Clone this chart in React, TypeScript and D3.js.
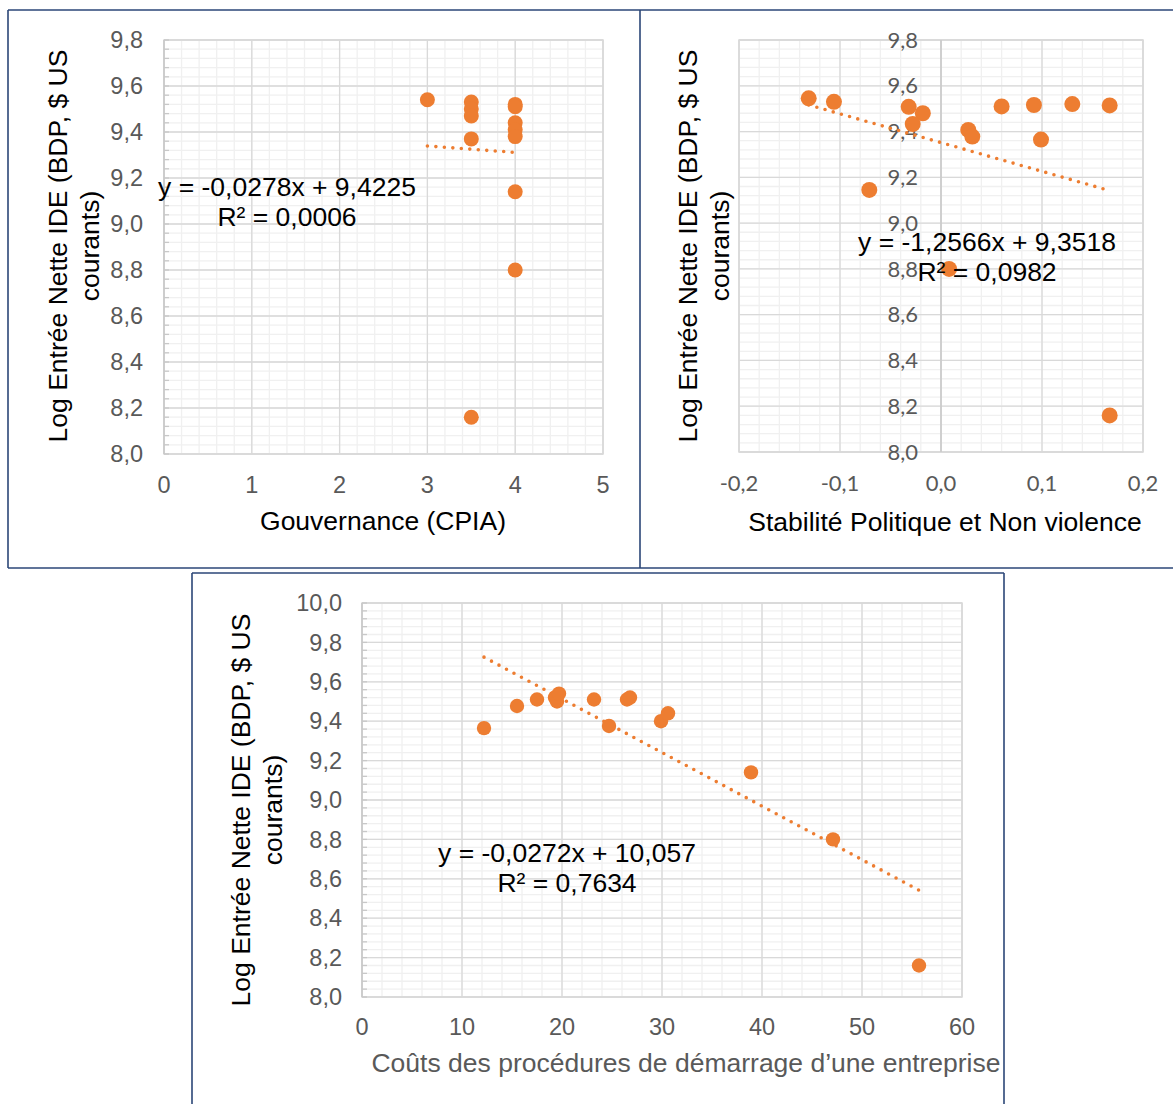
import React, { useEffect, useRef } from 'react';
import * as d3 from 'd3';

// Panel 1 : Gouvernance (CPIA)
const govX = [3, 3.5, 3.5, 3.5, 3.5, 3.5, 4, 4, 4, 4, 4, 4, 4];
const govY = [9.54, 9.53, 9.5, 9.47, 9.37, 8.16, 9.52, 9.51, 9.44, 9.41, 9.38, 9.14, 8.8];

// Panel 2 : Stabilité politique
const stabX = [-0.131, -0.106, -0.032, -0.018, -0.028, 0.027, 0.031, 0.06, 0.092, 0.13, 0.167, 0.099, -0.071, 0.008, 0.167];
const stabY = [9.545, 9.53, 9.508, 9.48, 9.433, 9.407, 9.378, 9.51, 9.516, 9.52, 9.514, 9.365, 9.145, 8.8, 8.16];

// Panel 3 : Coûts des procédures
const coutX = [12.2, 15.5, 17.5, 19.3, 19.5, 19.7, 23.2, 24.7, 26.5, 26.8, 29.9, 30.6, 38.9, 47.1, 55.7];
const coutY = [9.365, 9.477, 9.51, 9.52, 9.5, 9.54, 9.51, 9.376, 9.51, 9.52, 9.4, 9.44, 9.14, 8.8, 8.16];

// regression lines shown (slope, intercept) and equation labels
const slopes = [-0.0278, -1.2566, -0.0272];
const intercepts = [9.4225, 9.3518, 10.057];
const eqLabels = ['y = -0,0278x + 9,4225', 'y = -1,2566x + 9,3518', 'y = -0,0272x + 10,057'];
const r2Labels = ['R² = 0,0006', 'R² = 0,0982', 'R² = 0,7634'];

const yTitle = ['Log Entrée Nette IDE (BDP, $ US', 'courants)'];
const xTitles = ['Gouvernance (CPIA)', 'Stabilité Politique et Non violence', 'Coûts des procédures de démarrage d\u2019une entreprise'];

const ORANGE = '#ED7D31';
const FONT = '"Liberation Sans", Arial, sans-serif';
const TITLE_SIZE = 26.5;

const fmt = (d, dec) => d.toFixed(dec).replace('.', ',');

function drawPanel(svg, o) {
  const g = svg.append('g');
  const x = d3.scaleLinear().domain(o.xDomain).range(o.xRange);
  const y = d3.scaleLinear().domain(o.yDomain).range(o.yRange);
  const [x0, x1] = o.xRange;
  const [y0, y1] = o.yRange;

  // minor grid
  const xMinor = d3.range(o.xDomain[0], o.xDomain[1] + 1e-9, o.xMinor);
  const yMinor = d3.range(o.yDomain[0], o.yDomain[1] + 1e-9, o.yMinor);
  g.selectAll('.vmin').data(xMinor).join('line')
    .attr('x1', d => x(d)).attr('x2', d => x(d)).attr('y1', y0).attr('y2', y1)
    .attr('stroke', '#f0f0f0').attr('stroke-width', 1.3);
  g.selectAll('.hmin').data(yMinor).join('line')
    .attr('x1', x0).attr('x2', x1).attr('y1', d => y(d)).attr('y2', d => y(d))
    .attr('stroke', '#f0f0f0').attr('stroke-width', 1.3);

  // major grid
  const xTicks = d3.range(o.xDomain[0], o.xDomain[1] + 1e-9, o.xStep);
  const yTicks = d3.range(o.yDomain[0], o.yDomain[1] + 1e-9, o.yStep);
  g.selectAll('.vmaj').data(xTicks).join('line')
    .attr('x1', d => x(d)).attr('x2', d => x(d)).attr('y1', y0).attr('y2', y1)
    .attr('stroke', '#d9d9d9').attr('stroke-width', 1.3);
  g.selectAll('.hmaj').data(yTicks).join('line')
    .attr('x1', x0).attr('x2', x1).attr('y1', d => y(d)).attr('y2', d => y(d))
    .attr('stroke', '#d9d9d9').attr('stroke-width', 1.3);

  g.append('rect')
    .attr('x', x0).attr('y', y1).attr('width', x1 - x0).attr('height', y0 - y1)
    .attr('fill', 'none').attr('stroke', '#d9d9d9').attr('stroke-width', 1.5);

  // vertical axis line + inside minor ticks
  const axisX = x(o.yAxisAt);
  g.append('line')
    .attr('x1', axisX).attr('x2', axisX).attr('y1', y0).attr('y2', y1)
    .attr('stroke', '#c8c8c8').attr('stroke-width', 1.5);
  if (o.minorTicks) {
    g.selectAll('.mt').data(yMinor).join('line')
      .attr('x1', axisX).attr('x2', axisX + 5).attr('y1', d => y(d)).attr('y2', d => y(d))
      .attr('stroke', '#c8c8c8').attr('stroke-width', 1.3);
  }

  // tick labels
  g.selectAll('.yl').data(yTicks).join('text')
    .attr('x', axisX - o.yLabelGap).attr('y', d => y(d))
    .attr('dy', '0.35em').attr('text-anchor', 'end')
    .attr('font-family', o.tickFont).attr('font-size', o.tickSize).attr('fill', '#595959')
    .text(d => fmt(d, 1));
  g.selectAll('.xl').data(xTicks).join('text')
    .attr('x', d => x(d)).attr('y', o.xLabelY)
    .attr('dy', '0.35em').attr('text-anchor', 'middle')
    .attr('font-family', o.tickFont).attr('font-size', o.tickSize).attr('fill', '#595959')
    .text(d => fmt(d, o.xDec));

  // trendline
  const s = slopes[o.idx];
  const b = intercepts[o.idx];
  const tx = d3.extent(o.xs);
  g.append('path')
    .datum(tx.map(v => [v, s * v + b]))
    .attr('d', d3.line().x(d => x(d[0])).y(d => y(d[1])))
    .attr('fill', 'none').attr('stroke', ORANGE).attr('stroke-width', 3.6)
    .attr('stroke-linecap', 'round').attr('stroke-dasharray', '0 8.5');

  // points
  g.selectAll('.pt').data(o.xs.map((v, i) => [v, o.ys[i]])).join('circle')
    .attr('cx', d => x(d[0])).attr('cy', d => y(d[1]))
    .attr('r', o.r).attr('fill', ORANGE);

  // equation
  g.append('text')
    .attr('x', o.eqX).attr('y', o.eqY).attr('dy', '0.35em')
    .attr('text-anchor', 'middle').attr('font-family', FONT).attr('font-size', TITLE_SIZE).attr('fill', '#000')
    .text(eqLabels[o.idx]);
  g.append('text')
    .attr('x', o.eqX).attr('y', o.eqY + 30).attr('dy', '0.35em')
    .attr('text-anchor', 'middle').attr('font-family', FONT).attr('font-size', TITLE_SIZE).attr('fill', '#000')
    .text(r2Labels[o.idx]);

  // axis titles
  yTitle.forEach((t, i) => {
    g.append('text')
      .attr('transform', `translate(${o.yTitleX + i * 32},${o.yTitleY}) rotate(-90)`)
      .attr('dy', '0.35em').attr('text-anchor', 'middle')
      .attr('font-family', FONT).attr('font-size', TITLE_SIZE).attr('fill', '#000')
      .text(t);
  });
  g.append('text')
    .attr('x', o.xTitleX).attr('y', o.xTitleY).attr('dy', '0.35em')
    .attr('text-anchor', 'middle').attr('font-family', FONT).attr('font-size', TITLE_SIZE)
    .attr('fill', o.xTitleColor)
    .text(xTitles[o.idx]);
}

const App = () => {
  const svgRef = useRef(null);

  useEffect(() => {
    const svg = d3.select(svgRef.current);
    svg.selectAll('*').remove();

    svg.append('rect').attr('width', 1173).attr('height', 1104).attr('fill', '#fff');

    drawPanel(svg, {
      idx: 0, xs: govX, ys: govY,
      xDomain: [0, 5], xRange: [164, 603], xStep: 1, xMinor: 0.2, xDec: 0,
      yDomain: [8, 9.8], yRange: [454, 40], yStep: 0.2, yMinor: 0.04,
      yAxisAt: 0, yLabelGap: 21, xLabelY: 485, minorTicks: true, tickFont: FONT, tickSize: 23.5,
      r: 7.5, eqX: 287, eqY: 187,
      yTitleX: 58, yTitleY: 246, xTitleX: 383, xTitleY: 521, xTitleColor: '#000',
    });

    drawPanel(svg, {
      idx: 1, xs: stabX, ys: stabY,
      xDomain: [-0.2, 0.2], xRange: [739, 1143], xStep: 0.1, xMinor: 0.02, xDec: 1,
      yDomain: [8, 9.8], yRange: [452, 40], yStep: 0.2, yMinor: 0.04,
      yAxisAt: 0, yLabelGap: 23, xLabelY: 483, minorTicks: false,
      tickFont: 'Lato, "Open Sans", sans-serif', tickSize: 22,
      r: 8, eqX: 987, eqY: 242,
      yTitleX: 688, yTitleY: 246, xTitleX: 945, xTitleY: 522, xTitleColor: '#000',
    });

    drawPanel(svg, {
      idx: 2, xs: coutX, ys: coutY,
      xDomain: [0, 60], xRange: [362, 962], xStep: 10, xMinor: 2, xDec: 0,
      yDomain: [8, 10], yRange: [997, 603], yStep: 0.2, yMinor: 0.04,
      yAxisAt: 0, yLabelGap: 20, xLabelY: 1027, minorTicks: true, tickFont: FONT, tickSize: 23.5,
      r: 7.2, eqX: 567, eqY: 853,
      yTitleX: 241, yTitleY: 810, xTitleX: 686, xTitleY: 1063, xTitleColor: '#595959',
    });

    // frames around the panels
    const navy = '#2B4677';
    const frames = [
      [[8, 10], [640, 10]], [[8, 10], [8, 568]], [[8, 568], [1173, 568]],
      [[640, 10], [640, 568]], [[640, 10], [1173, 10]],
      [[192, 573], [1004, 573]], [[192, 573], [192, 1104]], [[1004, 573], [1004, 1104]],
    ];
    svg.selectAll('.frame').data(frames).join('line')
      .attr('x1', d => d[0][0]).attr('y1', d => d[0][1])
      .attr('x2', d => d[1][0]).attr('y2', d => d[1][1])
      .attr('stroke', navy).attr('stroke-width', 1.6);
  }, []);

  return (
    <svg
      ref={svgRef}
      width={1173}
      height={1104}
      style={{ position: 'absolute', left: 0, top: 0 }}
    />
  );
};

export default App;
